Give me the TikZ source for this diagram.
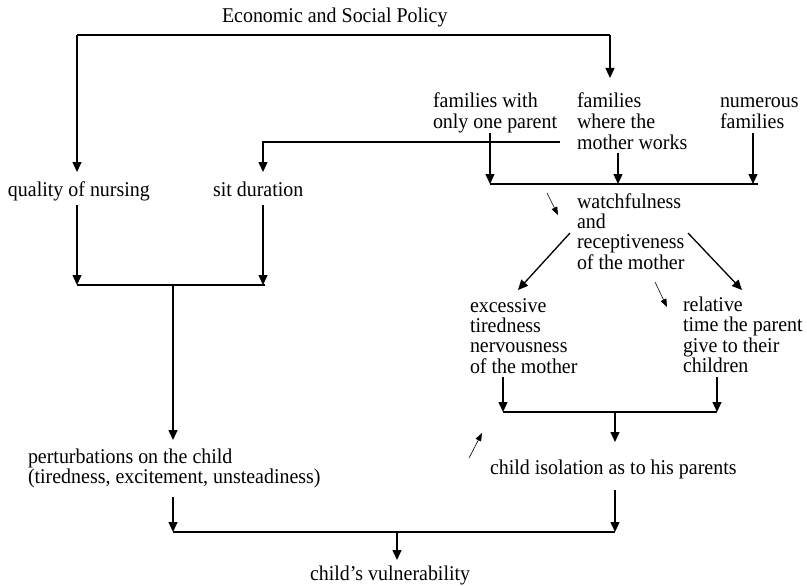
\documentclass[tikz,border=0pt]{standalone}
\usepackage{fontspec}
\setmainfont{Liberation Serif}[FakeStretch=0.95]
\usetikzlibrary{arrows.meta}
% multi-line label whose reference point is the baseline of its first line
\newcommand\stack[1]{\begin{tabular}[t]{@{}l@{}}#1\end{tabular}}
\begin{document}
\begin{tikzpicture}[x=1pt,y=-1pt,
  lbl/.style={anchor=base west, inner sep=0pt, outer sep=0pt,
              font=\fontsize{21}{20}\selectfont},
  wire/.style={line width=1.3pt},
  arr/.style={wire, -{Triangle[width=9pt,length=10pt]}},
  hint/.style={line width=0.6pt, -{Triangle[width=6pt,length=8pt]}}]
\useasboundingbox (0,0) rectangle (807,586);

% labels
\node[lbl] (policy)  at (222,23)  {Economic and Social Policy};
\node[lbl] (quality) at (8,196)   {quality of nursing};
\node[lbl] (sit)     at (213,196) {sit duration};
\node[lbl] (onepar)  at (433,108) {\stack{families with\\only one parent}};
\node[lbl] (mworks)  at (577,108) {\stack{families\\where the\\mother works}};
\node[lbl] (numer)   at (720,108) {\stack{numerous\\families}};
\node[lbl] (watch)   at (577,208) {\stack{watchfulness\\and\\receptiveness\\of the mother}};
\node[lbl] (tired)   at (470,312) {\stack{excessive\\tiredness\\nervousness\\of the mother}};
\node[lbl] (reltime) at (683,311) {\stack{relative\\time the parent\\give to their\\children}};
\node[lbl] (perturb) at (28,463)  {\stack{perturbations on the child\\(tiredness, excitement, unsteadiness)}};
\node[lbl] (isol)    at (490,474) {child isolation as to his parents};
\node[lbl] (vuln)    at (310,580) {child’s vulnerability};

% connection points
\coordinate (polL)  at (77,35);   \coordinate (polR)  at (610,35);
\coordinate (qIn)   at (77,172);  \coordinate (mIn)   at (610,78);
\coordinate (sdOut) at (560,142); \coordinate (sdBend) at (263,142);
\coordinate (sdIn)  at (263,172);
\coordinate (opOut) at (490,133); \coordinate (mwOut) at (618,153);
\coordinate (nfOut) at (753,133);
\coordinate (famL)  at (490,184); \coordinate (famR)  at (758,184);
\coordinate (qOut)  at (77,205);  \coordinate (sOut)  at (263,205);
\coordinate (nurL)  at (77,285);  \coordinate (nurR)  at (265,285);
\coordinate (nurJ)  at (173,285); \coordinate (pIn)   at (173,440);
\coordinate (wL)    at (570,233); \coordinate (tIn)   at (518,290);
\coordinate (wR)    at (688,233); \coordinate (rIn)   at (742,290);
\coordinate (tOut)  at (503,377); \coordinate (rOut)  at (717,377);
\coordinate (parL)  at (503,412); \coordinate (parR)  at (717,412);
\coordinate (parJ)  at (615,412); \coordinate (iIn)   at (615,442);
\coordinate (pOut)  at (173,497); \coordinate (iOut)  at (615,490);
\coordinate (vulL)  at (173,532); \coordinate (vulR)  at (615,532);
\coordinate (vulJ)  at (397,532); \coordinate (vIn)   at (397,560);

% policy branches
\draw[wire] (polL) -- (polR);
\draw[arr] (polL) -- (qIn);
\draw[arr] (polR) -- (mIn);

% working mother -> sitting duration
\draw[arr] (sdOut) -- (sdBend) -- (sdIn);

% family types merge
\draw[arr] (opOut) -- (opOut |- famL);
\draw[arr] (mwOut) -- (mwOut |- famL);
\draw[arr] (nfOut) -- (nfOut |- famL);
\draw[wire] (famL) -- (famR);

% nursing factors merge
\draw[arr] (qOut) -- (nurL);
\draw[arr] (sOut) -- (sOut |- nurL);
\draw[wire] (nurL) -- (nurR);
\draw[arr] (nurJ) -- (pIn);

% mother's watchfulness
\draw[arr] (wL) -- (tIn);
\draw[arr] (wR) -- (rIn);

% parental factors merge
\draw[arr] (tOut) -- (parL);
\draw[arr] (rOut) -- (parR);
\draw[wire] (parL) -- (parR);
\draw[arr] (parJ) -- (iIn);

% final merge
\draw[arr] (pOut) -- (vulL);
\draw[arr] (iOut) -- (vulR);
\draw[wire] (vulL) -- (vulR);
\draw[arr] (vulJ) -- (vIn);

% small influence marks
\draw[hint] (547,193) -- (558,215);
\draw[hint] (655,282) -- (667,307);
\draw[hint] (469,458) -- (482,433);
\end{tikzpicture}
\end{document}
